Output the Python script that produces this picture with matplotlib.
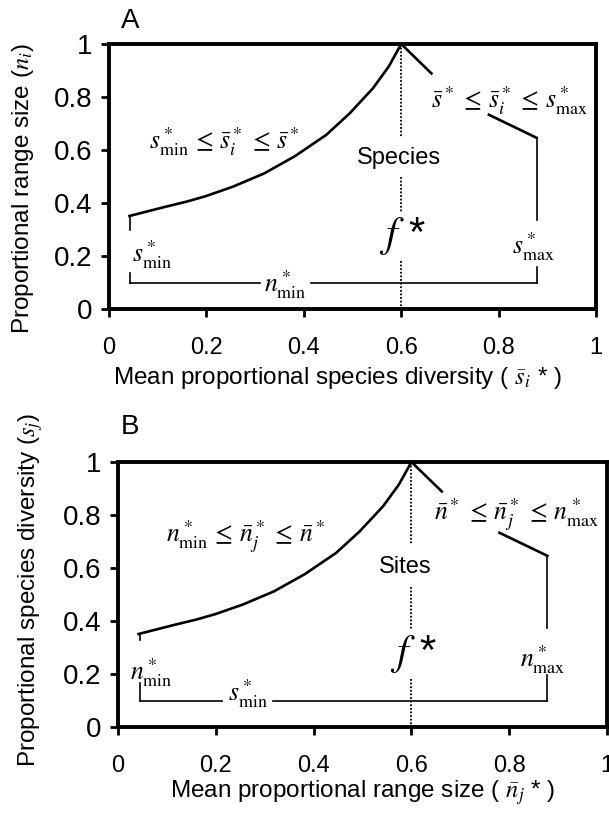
import matplotlib
matplotlib.use('Agg')
import matplotlib.pyplot as plt

plt.rcParams['font.family'] = ['Liberation Sans', 'DejaVu Sans']
plt.rcParams['mathtext.fontset'] = 'stix'

# ------------------------------------------------------------------
# Values (both panels share the shape)
# ------------------------------------------------------------------
# rising boundary, from the minimum up to the peak at f*
curve_x = [0.042, 0.112, 0.159, 0.199, 0.255, 0.319, 0.382, 0.446,
           0.494, 0.542, 0.574, 0.600]
curve_y = [0.351, 0.384, 0.405, 0.426, 0.462, 0.512, 0.577, 0.657,
           0.738, 0.833, 0.914, 1.000]
# falling boundary, visible pieces either side of its label
fall_top_x = [0.600, 0.662]
fall_top_y = [1.000, 0.889]
fall_low_x = [0.780, 0.878]
fall_low_y = [0.733, 0.646]

f_star = 0.6
x_lo, x_hi = 0.044, 0.878
y_floor = 0.1

ticks = [0, 0.2, 0.4, 0.6, 0.8, 1.0]
tick_labels = ['0', '0.2', '0.4', '0.6', '0.8', '1']

# visible bracket / dotted pieces (gaps are where labels sit)
A_left = [(0.351, 0.300), (0.135, 0.100)]
A_right = [(0.646, 0.336), (0.160, 0.100)]
A_floor = [(0.044, 0.310), (0.414, 0.878)]
A_dots = [(1.0, 0.650), (0.500, 0.365), (0.180, 0.0)]

B_left = [(0.351, 0.330), (0.165, 0.100)]
B_right = [(0.646, 0.372), (0.196, 0.100)]
B_floor = [(0.044, 0.212), (0.316, 0.878)]
B_dots = [(1.0, 0.687), (0.530, 0.366), (0.180, 0.0)]

LW_SPINE = 2.8
LW_CURVE = 1.9
LW_BRACKET = 1.2
MATH_FS = 18.5
LABEL_FS = 17.5


def panel(ax, left, right, floor, dots, labels):
    ax.set_xlim(0, 1)
    ax.set_ylim(0, 1)
    for s in ax.spines.values():
        s.set_linewidth(LW_SPINE)
    ax.set_xticks(ticks)
    ax.set_xticklabels(tick_labels)
    ax.set_yticks(ticks)
    ax.set_yticklabels(tick_labels)
    ax.tick_params(axis='x', direction='out', length=6, width=2,
                   labelsize=17, pad=14)
    ax.tick_params(axis='y', direction='out', length=6, width=2,
                   labelsize=20, pad=6)

    ax.plot(curve_x, curve_y, color='black', lw=LW_CURVE,
            solid_joinstyle='miter')
    ax.plot(fall_top_x, fall_top_y, color='black', lw=LW_CURVE)
    ax.plot(fall_low_x, fall_low_y, color='black', lw=LW_CURVE)

    for y0, y1 in left:
        ax.plot([x_lo, x_lo], [y0, y1], color='black', lw=LW_BRACKET)
    for y0, y1 in right:
        ax.plot([x_hi, x_hi], [y0, y1], color='black', lw=LW_BRACKET)
    for x0, x1 in floor:
        ax.plot([x0, x1], [y_floor, y_floor], color='black', lw=LW_BRACKET)
    for y0, y1 in dots:
        ax.plot([f_star, f_star], [y0, y1], color='black', lw=1.3,
                linestyle=(0, (1, 1)))

    rise, fall, side_lo, side_hi, mid, word = labels
    for x, y, s in (rise, fall, side_lo, side_hi, mid):
        ax.text(x, y, s, ha='center', va='baseline', fontsize=MATH_FS)
    ax.text(word[0], word[1], word[2], ha='center', va='center',
            fontsize=17)
    ax.text(0.603, 0.275, r'$f$ *', ha='center', va='center', fontsize=30)


fig = plt.figure(figsize=(6.09, 8.24), dpi=100)

# ----- Panel A -----
axA = fig.add_axes([0.179, 0.625, 0.7997, 0.3216])
panel(axA, A_left, A_right, A_floor, A_dots, [
    (0.237, 0.606,
     r'$s^*_{\mathrm{min}}\,\leq\,\bar{s}^*_i\,\leq\,\bar{s}^*$'),
    (0.822, 0.761,
     r'$\bar{s}^*\,\leq\,\bar{s}^*_i\,\leq\,s^*_{\mathrm{max}}$'),
    (0.088, 0.178, r'$s^*_{\mathrm{min}}$'),
    (0.871, 0.210, r'$s^*_{\mathrm{max}}$'),
    (0.362, 0.065, r'$n^*_{\mathrm{min}}$'),
    (0.595, 0.569, 'Species'),
])
axA.text(0.469, -0.26,
         r'Mean proportional species diversity ( $\bar{s}_i$ * )',
         transform=axA.transAxes, ha='center', va='center',
         fontsize=LABEL_FS)
axA.text(-0.177, 0.453, r'Proportional range size ($n_i$)',
         transform=axA.transAxes, ha='center', va='center',
         rotation=90, fontsize=LABEL_FS)
fig.text(0.214, 0.974, 'A', ha='center', va='center', fontsize=20)

# ----- Panel B -----
axB = fig.add_axes([0.1938, 0.1177, 0.803, 0.3216])
panel(axB, B_left, B_right, B_floor, B_dots, [
    (0.260, 0.700,
     r'$n^*_{\mathrm{min}}\,\leq\,\bar{n}^*_j\,\leq\,\bar{n}^*$'),
    (0.815, 0.784,
     r'$\bar{n}^*\,\leq\,\bar{n}^*_j\,\leq\,n^*_{\mathrm{max}}$'),
    (0.069, 0.180, r'$n^*_{\mathrm{min}}$'),
    (0.868, 0.228, r'$n^*_{\mathrm{max}}$'),
    (0.266, 0.100, r'$s^*_{\mathrm{min}}$'),
    (0.587, 0.605, 'Sites'),
])
axB.text(0.501, -0.249,
         r'Mean proportional range size ( $\bar{n}_j$ * )',
         transform=axB.transAxes, ha='center', va='center',
         fontsize=LABEL_FS)
axB.text(-0.178, 0.517, r'Proportional species diversity ($s_j$)',
         transform=axB.transAxes, ha='center', va='center',
         rotation=90, fontsize=LABEL_FS)
fig.text(0.2135, 0.482, 'B', ha='center', va='center', fontsize=20)

fig.savefig('out.png', dpi=100)
